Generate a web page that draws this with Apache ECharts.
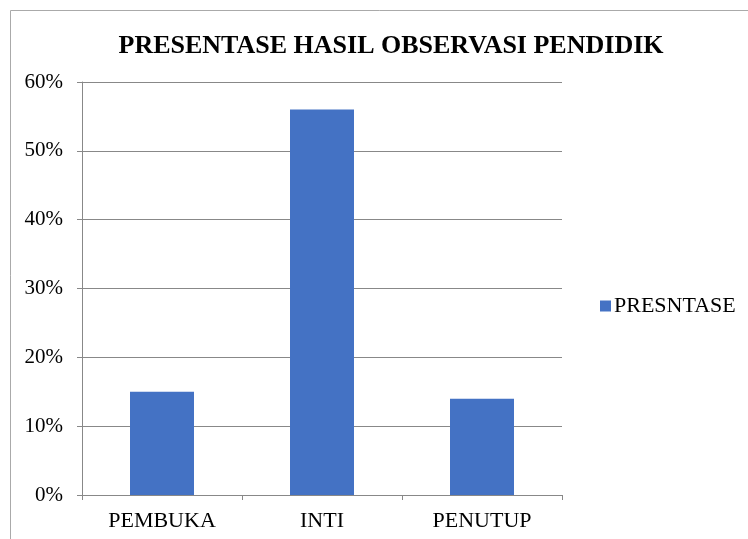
<!DOCTYPE html>
<html>
<head>
<meta charset="utf-8">
<script src="https://cdn.jsdelivr.net/npm/echarts@6/dist/echarts.min.js"></script>
<style>
  html, body { margin: 0; padding: 0; background: #fff; }
  #chart { width: 748px; height: 539px; }
</style>
</head>
<body>
<div id="chart"></div>
<script>
// data
const categories = ['PEMBUKA', 'INTI', 'PENUTUP']
const presntase = [15, 56, 14]
const seriesName = 'PRESNTASE'

const serif = '"Liberation Serif", "DejaVu Serif", serif'

const chart = echarts.init(document.getElementById('chart'))

chart.setOption({
  backgroundColor: '#fff',
  animation: false,
  title: {
    text: 'PRESENTASE HASIL OBSERVASI PENDIDIK',
    left: 386,
    textAlign: 'center',
    top: 28,
    textStyle: { fontFamily: serif, fontSize: 26, fontWeight: 'bold', color: '#000' }
  },
  legend: {
    data: [seriesName],
    left: 595,
    top: 290,
    itemWidth: 11,
    itemHeight: 11,
    itemGap: 5,
    icon: 'rect',
    textStyle: { fontFamily: serif, fontSize: 22, color: '#000', padding: [0, 0, 0, -2] }
  },
  grid: {
    left: 82,
    right: 186,
    top: 82,
    bottom: 44,
    containLabel: false
  },
  xAxis: {
    type: 'category',
    data: categories,
    axisLine: { lineStyle: { color: '#888', width: 1 } },
    axisTick: { show: true, length: 5, lineStyle: { color: '#888' } },
    axisLabel: { fontFamily: serif, fontSize: 22, color: '#000', margin: 15 }
  },
  yAxis: {
    type: 'value',
    min: 0,
    max: 60,
    interval: 10,
    axisLine: { show: true, lineStyle: { color: '#888', width: 1 } },
    axisTick: { show: true, length: 5, lineStyle: { color: '#888' } },
    splitLine: { lineStyle: { color: '#888', width: 1 } },
    axisLabel: {
      fontFamily: serif, fontSize: 21, color: '#000', margin: 19,
      formatter: v => v + '%'
    }
  },
  series: [{
    name: seriesName,
    type: 'bar',
    data: presntase,
    barWidth: '40%',
    itemStyle: { color: '#4472C4' }
  }],
  graphic: [{
    type: 'rect',
    shape: { x: 10.5, y: 10.5, width: 800, height: 600 },
    style: { fill: 'none', stroke: '#aaa', lineWidth: 1 },
    silent: true
  }]
})
</script>
</body>
</html>
